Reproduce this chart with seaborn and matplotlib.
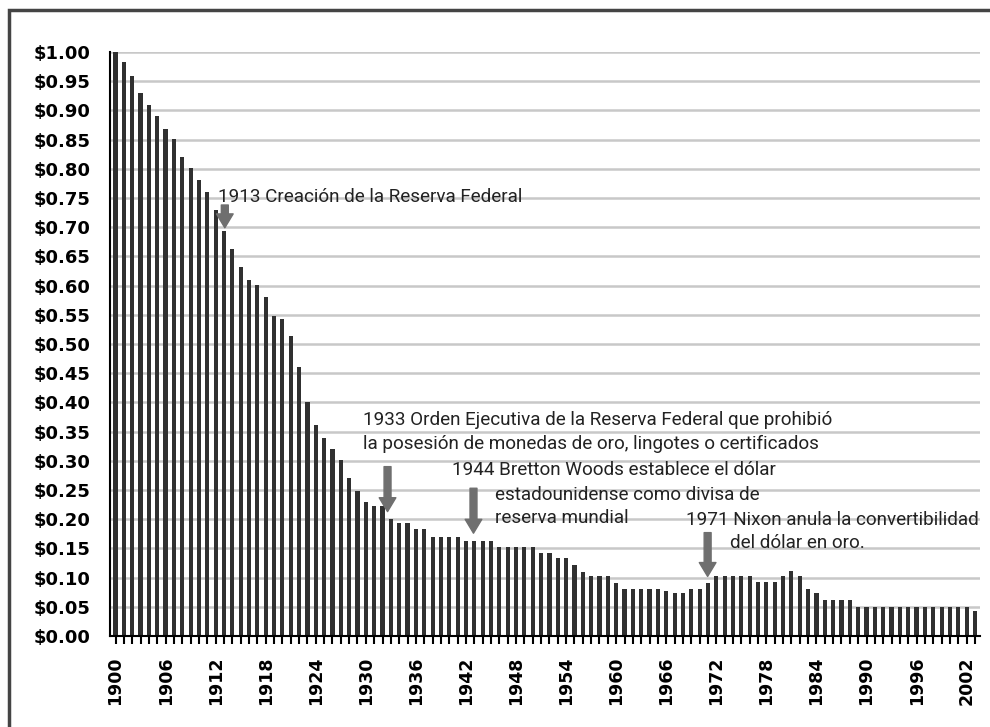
"""
Purchasing power of the US dollar, 1900-2003 (bar chart with historical notes)
"""

import matplotlib
matplotlib.use('Agg')
import numpy as np
import pandas as pd
import matplotlib.pyplot as plt
import seaborn as sns
from matplotlib import font_manager
from matplotlib.patches import Rectangle

# --- data -------------------------------------------------------------------
years = list(range(1900, 2004))

values = [
    1.000, 0.983, 0.959, 0.930, 0.910, 0.891, 0.869, 0.851, 0.821, 0.802,   # 1900s
    0.780, 0.760, 0.730, 0.693, 0.662, 0.632, 0.610, 0.601, 0.580, 0.548,   # 1910s
    0.542, 0.513, 0.461, 0.400, 0.362, 0.339, 0.320, 0.301, 0.271, 0.249,   # 1920s
    0.230, 0.223, 0.222, 0.200, 0.193, 0.193, 0.183, 0.183, 0.170, 0.170,   # 1930s
    0.170, 0.170, 0.163, 0.163, 0.163, 0.163, 0.152, 0.152, 0.152, 0.152,   # 1940s
    0.152, 0.142, 0.142, 0.133, 0.133, 0.121, 0.110, 0.103, 0.103, 0.103,   # 1950s
    0.091, 0.080, 0.080, 0.080, 0.080, 0.080, 0.077, 0.074, 0.074, 0.080,   # 1960s
    0.080, 0.091, 0.103, 0.102, 0.102, 0.102, 0.102, 0.092, 0.092, 0.092,   # 1970s
    0.103, 0.111, 0.102, 0.080, 0.073, 0.062, 0.062, 0.062, 0.062, 0.050,   # 1980s
    0.050, 0.050, 0.050, 0.050, 0.050, 0.050, 0.050, 0.050, 0.050, 0.050,   # 1990s
    0.050, 0.050, 0.050, 0.042,                                             # 2000s
]

tick_years = list(range(1900, 2004, 6))
y_ticks = np.round(np.arange(0, 1.0001, 0.05), 2)
y_tick_labels = [f'${v:.2f}' for v in y_ticks]

# historical notes: (text lines, x of each line, y of each line) and arrows
notes = [
    (['1913 Creación de la Reserva Federal'], [1912.28], [0.752]),
    (['1933 Orden Ejecutiva de la Reserva Federal que prohibió',
      'la posesión de monedas de oro, lingotes o certificados'],
     [1929.64, 1929.64], [0.370, 0.329]),
    (['1944 Bretton Woods establece el dólar',
      'estadounidense como divisa de',
      'reserva mundial'],
     [1940.38, 1945.51, 1945.51], [0.284, 0.241, 0.202]),
    (['1971 Nixon anula la convertibilidad',
      'del dólar en oro.'],
     [1968.41, 1973.6], [0.199, 0.159]),
]
arrows = [  # (x, top, tip)
    (1913.1, 0.738, 0.699),
    (1932.6, 0.290, 0.213),
    (1942.9, 0.253, 0.176),
    (1970.96, 0.177, 0.102),
]

BAR_COLOR = '#303030'
GRID_COLOR = '#c8c8c8'
ARROW_COLOR = '#6f6f6f'
TEXT_COLOR = '#222222'

# --- style ------------------------------------------------------------------
sns.set_style('white')
plt.rcParams['font.family'] = ['DejaVu Sans']

installed = {f.name for f in font_manager.fontManager.ttflist}
if 'Liberation Sans Narrow' in installed:
    note_font, note_size = 'Liberation Sans Narrow', 15
else:
    note_font, note_size = 'Roboto', 13.6

fig = plt.figure(figsize=(9.9, 7.27), dpi=100)
ax = fig.add_axes([110 / 990, 91 / 727, 870 / 990, 584 / 727])

df = pd.DataFrame({'year': years, 'value': values})
sns.barplot(data=df, x='year', y='value', native_scale=True, width=0.5,
            color=BAR_COLOR, saturation=1, errorbar=None, linewidth=0, ax=ax)

ax.set_xlim(1899.34, 2003.6)
ax.set_ylim(0, 1.0)

# y axis
ax.set_yticks(y_ticks)
ax.set_yticklabels(y_tick_labels, fontsize=13, fontweight='bold', color='black')
ax.tick_params(axis='y', length=5, width=1.5, pad=9, color='black')

# x axis: small tick at every year, label every 6 years
ax.set_xticks(tick_years)
ax.set_xticklabels([str(y) for y in tick_years], rotation=90,
                   fontsize=12.5, fontweight='bold', color='black')
ax.set_xticks(years, minor=True)
ax.tick_params(axis='x', which='both', length=6, width=1.5, pad=9,
               direction='out', color='black', bottom=True)

ax.set_xlabel('')
ax.set_ylabel('')

ax.yaxis.grid(True, color=GRID_COLOR, linewidth=1.8)
ax.xaxis.grid(False)
ax.set_axisbelow(True)

for side in ['top', 'right']:
    ax.spines[side].set_visible(False)
for side in ['left', 'bottom']:
    ax.spines[side].set_color('black')
    ax.spines[side].set_linewidth(1.5)

# --- notes and arrows -------------------------------------------------------
for lines, xs, ys in notes:
    for txt, x, y in zip(lines, xs, ys):
        ax.text(x, y, txt, ha='left', va='center', fontsize=note_size,
                family=note_font, color=TEXT_COLOR)

for x, top, tip in arrows:
    ax.annotate('', xy=(x, tip), xytext=(x, top),
                arrowprops=dict(arrowstyle='simple,head_width=1.2,head_length=1.0,tail_width=0.5',
                                color=ARROW_COLOR, mutation_scale=10,
                                shrinkA=0, shrinkB=0))

# outer frame
fig.patches.append(Rectangle((8.5 / 990, -0.05), 1.1, 1.05 - 9.5 / 727,
                             transform=fig.transFigure, fill=False,
                             edgecolor='#444444', linewidth=2.5))

fig.savefig('out.png', dpi=100)
